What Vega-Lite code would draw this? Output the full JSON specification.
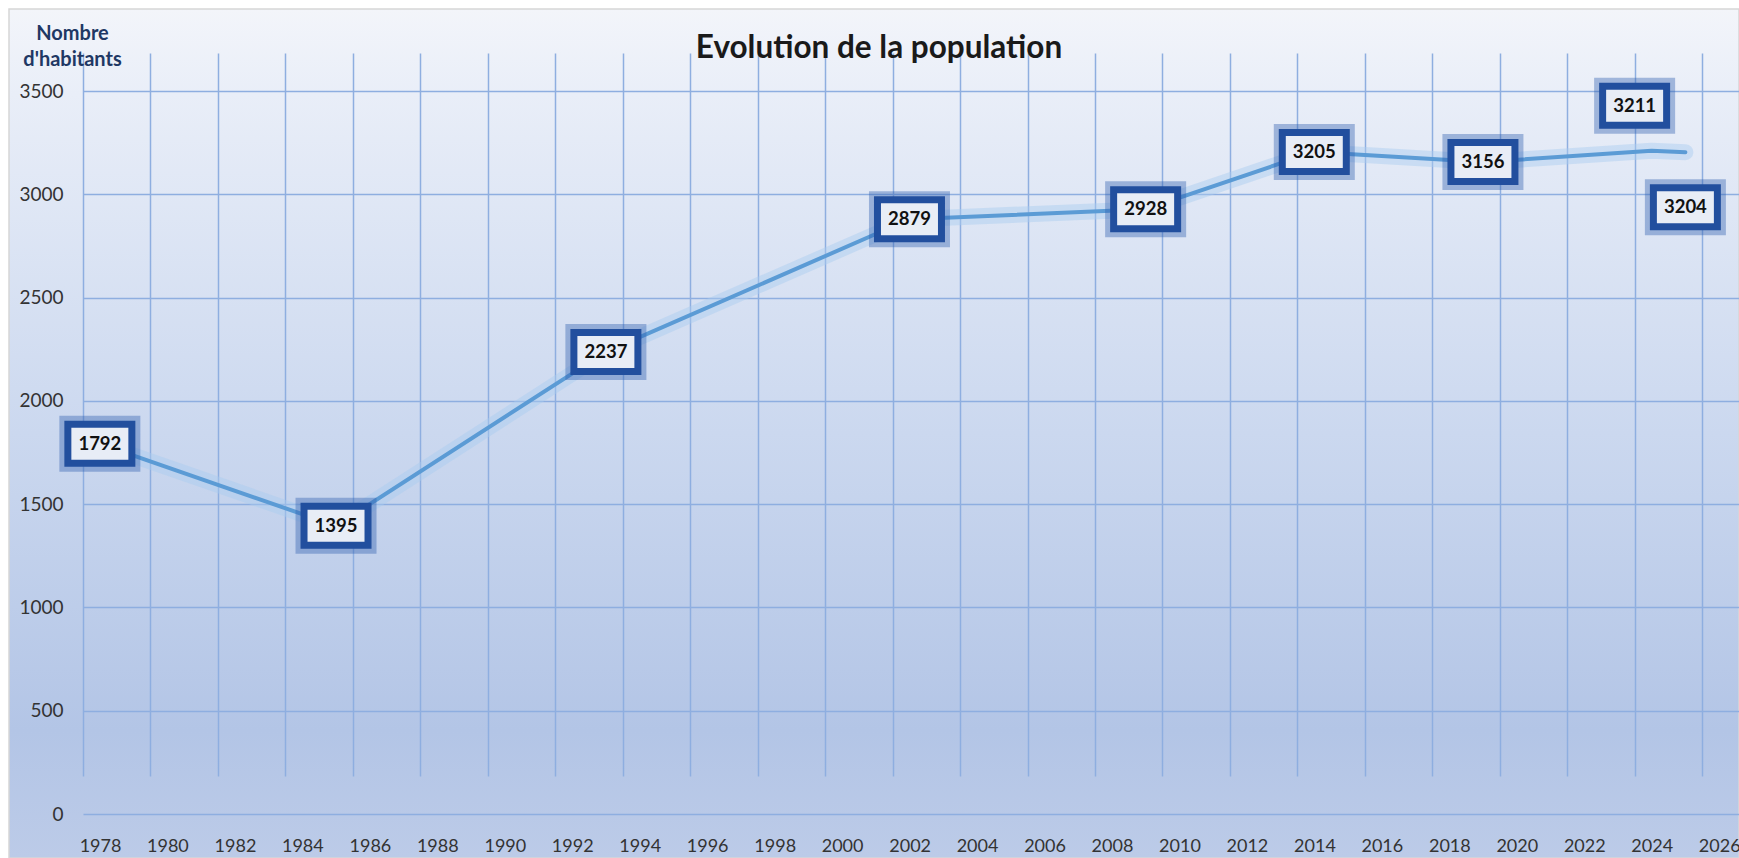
{
  "$schema": "https://vega.github.io/schema/vega-lite/v6.json",
  "width": 1730,
  "height": 849,
  "autosize": "none",
  "padding": {"left": 9, "top": 9, "right": 0, "bottom": 0},
  "background": "#ffffff",
  "config": {
    "view": {
      "stroke": "#d6d6d6",
      "strokeWidth": 1.5,
      "fill": {"gradient": "linear", "x1": 0, "y1": 0, "x2": 0, "y2": 1,
        "stops": [
          {"offset": 0, "color": "#f3f5fa"},
          {"offset": 0.1, "color": "#e9eef8"},
          {"offset": 0.5, "color": "#cbd8ef"},
          {"offset": 0.85, "color": "#b3c5e6"},
          {"offset": 1, "color": "#bccbe8"}
        ]}
    },
    "font": "Lato"
  },
  "title": {
    "text": "Evolution de la population",
    "font": "Lato",
    "fontSize": 31.5,
    "fontWeight": "bold",
    "color": "#1a1a1a",
    "frame": "group",
    "anchor": "middle",
    "baseline": "middle",
    "offset": -71,
    "dx": 5
  },
  "data": {
    "values": [
      {"year": "1978-01-01", "population": 1792},
      {"year": "1985-01-01", "population": 1395},
      {"year": "1993-01-01", "population": 2237},
      {"year": "2002-01-01", "population": 2879},
      {"year": "2009-01-01", "population": 2928},
      {"year": "2014-01-01", "population": 3205},
      {"year": "2019-01-01", "population": 3156},
      {"year": "2024-01-01", "population": 3211},
      {"year": "2025-01-01", "population": 3204}
    ]
  },
  "encoding": {
    "x": {
      "field": "year",
      "timeUnit": "utcyear",
      "type": "temporal",
      "bandPosition": 0.5,
      "scale": {
        "domain": [{"year": 1978, "month": 1, "date": 1, "utc": true}, {"year": 2027, "month": 2, "date": 3, "utc": true}],
        "range": [74, 1730]
      },
      "axis": {
        "title": null,
        "tickCount": {"interval": "year", "step": 2},
        "format": "%Y",
        "grid": true,
        "gridColor": "#8eaee0",
        "gridWidth": 1.5,
        "domain": false,
        "ticks": false,
        "tickSize": 0,
        "offset": -44,
        "labelPadding": 23,
        "labelOffset": 17,
        "labelFlush": false,
        "labelOverlap": false,
        "labelFont": "Lato",
        "labelFontSize": 18,
        "labelColor": "#333333"
      }
    },
    "y": {
      "field": "population",
      "type": "quantitative",
      "scale": {"domain": [0, 3500], "range": [805, 82], "nice": false, "zero": true},
      "axis": {
        "values": [0, 500, 1000, 1500, 2000, 2500, 3000, 3500],
        "format": "d",
        "grid": true,
        "gridColor": "#8eaee0",
        "gridWidth": 1.5,
        "domain": false,
        "ticks": false,
        "tickSize": 0,
        "offset": -74,
        "labelPadding": 20,
        "labelFont": "Lato",
        "labelFontSize": 19,
        "labelColor": "#333333",
        "title": ["Nombre", "d'habitants"],
        "titleAngle": 0,
        "titleX": -11,
        "titleY": 24,
        "titleAlign": "center",
        "titleBaseline": "middle",
        "titleLineHeight": 26,
        "titleFont": "Lato",
        "titleFontSize": 20,
        "titleFontWeight": "bold",
        "titleColor": "#1f3864"
      }
    }
  },
  "layer": [
    {"mark": {"type": "line", "stroke": "#a8cbef", "strokeWidth": 16, "opacity": 0.45, "strokeCap": "round", "strokeJoin": "round"}},
    {"mark": {"type": "line", "stroke": "#5b9bd5", "strokeWidth": 4, "strokeCap": "round", "strokeJoin": "round"}},
    {
      "transform": [{"filter": "datum.population != 3211 && datum.population != 3204"}],
      "layer": [
        {"mark": {"type": "point", "shape": "M-1,-0.61L1,-0.61L1,0.61L-1,0.61Z", "size": 4096, "filled": true, "fill": "#e8edf6", "stroke": "#2f5fae", "strokeWidth": 17, "strokeOpacity": 0.4, "opacity": 1}},
        {"mark": {"type": "point", "shape": "M-1,-0.61L1,-0.61L1,0.61L-1,0.61Z", "size": 4096, "filled": true, "fill": "#e8edf6", "stroke": "#224f9e", "strokeWidth": 7, "opacity": 1}},
        {"mark": {"type": "text", "font": "Lato", "fontSize": 18.5, "fontWeight": "bold", "color": "#111111"}, "encoding": {"text": {"field": "population", "type": "quantitative"}}}
      ]
    },
    {
      "transform": [{"filter": "datum.population == 3211"}],
      "layer": [
        {"mark": {"type": "point", "shape": "M-1,-0.61L1,-0.61L1,0.61L-1,0.61Z", "size": 4096, "filled": true, "fill": "#e8edf6", "stroke": "#2f5fae", "strokeWidth": 17, "strokeOpacity": 0.4, "opacity": 1, "xOffset": -17, "yOffset": -45}},
        {"mark": {"type": "point", "shape": "M-1,-0.61L1,-0.61L1,0.61L-1,0.61Z", "size": 4096, "filled": true, "fill": "#e8edf6", "stroke": "#224f9e", "strokeWidth": 7, "opacity": 1, "xOffset": -17, "yOffset": -45}},
        {"mark": {"type": "text", "font": "Lato", "fontSize": 18.5, "fontWeight": "bold", "color": "#111111", "xOffset": -17, "yOffset": -45}, "encoding": {"text": {"field": "population", "type": "quantitative"}}}
      ]
    },
    {
      "transform": [{"filter": "datum.population == 3204"}],
      "layer": [
        {"mark": {"type": "point", "shape": "M-1,-0.61L1,-0.61L1,0.61L-1,0.61Z", "size": 4096, "filled": true, "fill": "#e8edf6", "stroke": "#2f5fae", "strokeWidth": 17, "strokeOpacity": 0.4, "opacity": 1, "yOffset": 55}},
        {"mark": {"type": "point", "shape": "M-1,-0.61L1,-0.61L1,0.61L-1,0.61Z", "size": 4096, "filled": true, "fill": "#e8edf6", "stroke": "#224f9e", "strokeWidth": 7, "opacity": 1, "yOffset": 55}},
        {"mark": {"type": "text", "font": "Lato", "fontSize": 18.5, "fontWeight": "bold", "color": "#111111", "yOffset": 55}, "encoding": {"text": {"field": "population", "type": "quantitative"}}}
      ]
    }
  ]
}
